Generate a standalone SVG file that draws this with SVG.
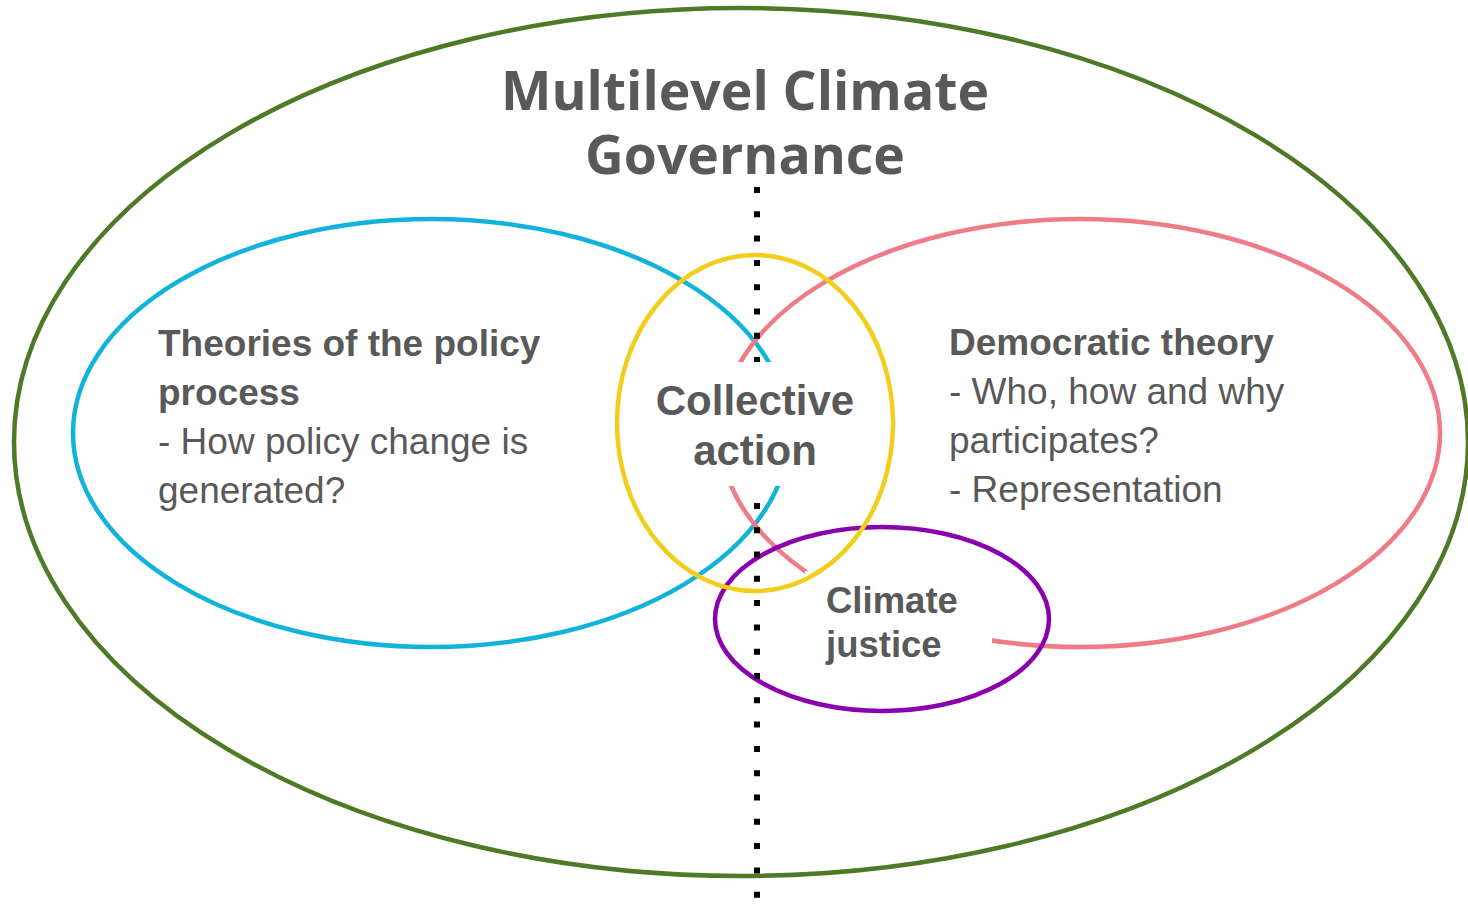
<svg xmlns="http://www.w3.org/2000/svg" width="1468" height="906" viewBox="0 0 1468 906">
  <style>
    .ring { fill: none; stroke-width: 4.5; }
    .t { fill: #595959; font-family: "Liberation Sans", Arial, sans-serif; }
    .b { font-weight: bold; }
    .title { fill: #595959; font-family: "Open Sans", "Liberation Sans", sans-serif; font-weight: bold; font-size: 53.5px; }
    .mask { fill: #ffffff; stroke: none; }
  </style>
  <rect width="1468" height="906" fill="#ffffff"/>
  <g id="multilevel-governance">
    <ellipse class="ring" cx="741" cy="442" rx="727" ry="434" stroke="#4E7A28"/>
    <text class="title" text-anchor="middle" x="745" y="110">Multilevel Climate</text>
    <text class="title" text-anchor="middle" x="745" y="174">Governance</text>
  </g>
  <g id="policy-process">
    <ellipse class="ring" cx="431" cy="433" rx="358" ry="214" stroke="#12B3DA"/>
  </g>
  <g id="democratic-theory">
    <ellipse class="ring" cx="1080" cy="433" rx="360" ry="214" stroke="#F07A85"/>
  </g>
  <g id="climate-justice">
    <rect class="mask" x="805" y="571" width="187" height="115"/>
    <ellipse class="ring" cx="882" cy="619" rx="167" ry="92" stroke="#8A00AE"/>
    <text class="t b" font-size="36.5" x="826" y="613">Climate</text>
    <text class="t b" font-size="36.5" x="826" y="657">justice</text>
  </g>
  <g id="connectors">
    <line x1="757" y1="187" x2="757" y2="906" stroke="#000000" stroke-width="6" stroke-dasharray="6 18.3"/>
  </g>
  <g id="collective-action">
    <rect class="mask" x="640" y="362" width="230" height="124"/>
    <ellipse class="ring" cx="755" cy="423" rx="138" ry="168" stroke="#F2CD1B"/>
    <text class="t b" font-size="42" text-anchor="middle" x="755" y="415">Collective</text>
    <text class="t b" font-size="42" text-anchor="middle" x="755" y="465">action</text>
  </g>
  <g id="policy-process-text">
    <text class="t b" font-size="37" x="158" y="356">Theories of the policy</text>
    <text class="t b" font-size="37" x="158" y="405">process</text>
    <text class="t" font-size="37" x="158" y="454">- How policy change is</text>
    <text class="t" font-size="37" x="158" y="503">generated?</text>
  </g>
  <g id="democratic-theory-text">
    <text class="t b" font-size="37" x="949" y="355">Democratic theory</text>
    <text class="t" font-size="37" x="949" y="404">- Who, how and why</text>
    <text class="t" font-size="37" x="949" y="453">participates?</text>
    <text class="t" font-size="37" x="949" y="502">- Representation</text>
  </g>
</svg>
